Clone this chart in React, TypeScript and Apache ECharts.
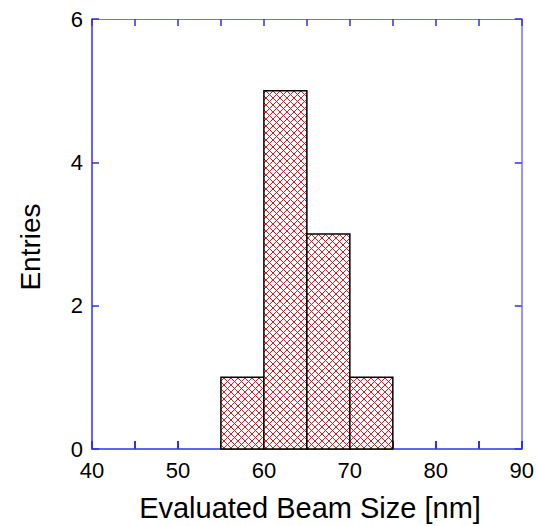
import React, { useEffect, useRef } from "react";
import * as echarts from "echarts";

const binStarts = [55, 60, 65, 70];
const binWidth = 5;
const entries = [1, 5, 3, 1];
const xLabelStep = 10;
const xTitle = "Evaluated Beam Size [nm]";
const yTitle = "Entries";

const FONT = 'Arial, "Liberation Sans", sans-serif';

function makePattern(): HTMLCanvasElement {
  const c = document.createElement("canvas");
  c.width = 7;
  c.height = 7;
  const ctx = c.getContext("2d")!;
  ctx.fillStyle = "#ffffff";
  ctx.fillRect(0, 0, 7, 7);
  ctx.strokeStyle = "#e8141c";
  ctx.lineWidth = 1;
  ctx.beginPath();
  ctx.moveTo(-1, -1);
  ctx.lineTo(8, 8);
  ctx.moveTo(-1, 8);
  ctx.lineTo(8, -1);
  ctx.stroke();
  return c;
}

export default function App() {
  const ref = useRef<HTMLDivElement>(null);
  useEffect(() => {
    if (!ref.current) return;
    const chart = echarts.init(ref.current, undefined, { renderer: "svg" });
    const pattern = makePattern();
    const axisMain = "#3030f0";
    const axisThin = "#7070f4";
    const data = binStarts.map((s, i) => [s, s + binWidth, entries[i]]);
    chart.setOption({
      animation: false,
      grid: { left: 92, top: 19, right: 13, bottom: 77 },
      xAxis: [
        {
          type: "value",
          position: "bottom",
          min: 40,
          max: 90,
          interval: 5,
          axisLine: { show: true, onZero: false, lineStyle: { color: axisMain, width: 1.5 } },
          axisTick: { show: true, inside: true, length: 8, lineStyle: { color: axisMain, width: 2 } },
          axisLabel: {
            color: "#000",
            fontSize: 22,
            fontFamily: FONT,
            margin: 10,
            formatter: (v: number) => (v % xLabelStep === 0 ? String(v) : ""),
          },
          splitLine: { show: false },
        },
        {
          type: "value",
          position: "top",
          min: 40,
          max: 90,
          interval: 5,
          axisLine: { show: true, onZero: false, lineStyle: { color: axisThin, width: 1 } },
          axisTick: { show: true, inside: true, length: 7, lineStyle: { color: axisMain, width: 1.5 } },
          axisLabel: { show: false },
          splitLine: { show: false },
        },
      ],
      yAxis: [
        {
          type: "value",
          position: "left",
          min: 0,
          max: 6,
          interval: 2,
          axisLine: { show: true, onZero: false, lineStyle: { color: axisMain, width: 1.5 } },
          axisTick: { show: true, inside: true, length: 7, lineStyle: { color: axisMain, width: 1.5 } },
          axisLabel: { color: "#000", fontSize: 22, fontFamily: FONT, margin: 9 },
          splitLine: { show: false },
        },
        {
          type: "value",
          position: "right",
          min: 0,
          max: 6,
          interval: 2,
          axisLine: { show: true, onZero: false, lineStyle: { color: axisThin, width: 1.5 } },
          axisTick: { show: true, inside: true, length: 7, lineStyle: { color: axisMain, width: 1.5 } },
          axisLabel: { show: false },
          splitLine: { show: false },
        },
      ],
      graphic: [
        {
          type: "text",
          x: 310,
          y: 508,
          style: {
            text: xTitle,
            fontSize: 29,
            fontFamily: FONT,
            fill: "#000",
            textAlign: "center",
            textVerticalAlign: "middle",
          },
        },
        {
          type: "text",
          x: 30,
          y: 247,
          rotation: Math.PI / 2,
          style: {
            text: yTitle,
            fontSize: 28,
            fontFamily: FONT,
            fill: "#000",
            textAlign: "center",
            textVerticalAlign: "middle",
          },
        },
      ],
      series: [
        {
          type: "custom",
          xAxisIndex: 0,
          yAxisIndex: 0,
          encode: { x: [0, 1], y: 2 },
          data,
          renderItem: (params: any, api: any) => {
            const p0 = api.coord([api.value(0), api.value(2)]);
            const p1 = api.coord([api.value(1), 0]);
            return {
              type: "rect",
              shape: { x: p0[0], y: p0[1], width: p1[0] - p0[0], height: p1[1] - p0[1] },
              style: {
                fill: { image: pattern, repeat: "repeat" },
                stroke: "#000",
                lineWidth: 1.5,
              },
            };
          },
        },
      ],
    });
    return () => chart.dispose();
  }, []);
  return (
    <div
      ref={ref}
      style={{ position: "fixed", left: 0, top: 0, width: 537, height: 526, background: "#fff" }}
    />
  );
}
